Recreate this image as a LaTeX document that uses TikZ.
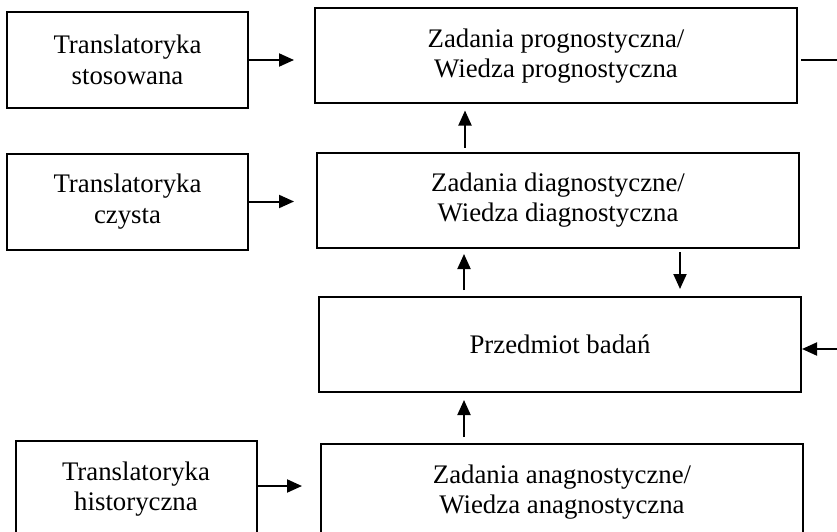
\documentclass[tikz,border=0pt]{standalone}
\usepackage{fontspec}
\setmainfont{Liberation Serif}
\usepackage{tikz}
\usetikzlibrary{positioning,arrows.meta,calc}

\begin{document}
\begin{tikzpicture}[
    x=1pt, y=-1pt,
    block/.style={draw, line width=2pt, fill=white, minimum width=241pt, minimum height=96pt, align=center, inner sep=0pt, font=\fontsize{26.8}{30.4}\selectfont},
    wide/.style={block, minimum width=482pt, minimum height=95pt},
    arr/.style={-{Triangle[length=15pt, width=13pt]}, line width=2pt},
    plain/.style={line width=2.6pt}
]
    \useasboundingbox (0,0) rectangle (837,532);
    \clip (0,0) rectangle (837,532);

    % central column
    \node[wide] (zp) at (556,56) {Zadania prognostyczna/\\Wiedza prognostyczna};
    \node[wide, below=47pt of zp, xshift=2pt] (zd) {Zadania diagnostyczne/\\Wiedza diagnostyczna};
    \node[wide, below=47.5pt of zd, xshift=2pt] (pb) {Przedmiot badań};
    \node[wide, below=50pt of pb, xshift=2pt, minimum height=96pt] (za) {Zadania anagnostyczne/\\Wiedza anagnostyczna};

    % left column
    \node[block] (ts) at (127.5,60) {Translatoryka\\stosowana};
    \node[block] (tc) at (127.5,201.5) {Translatoryka\\czysta};
    \node[block] (th) at (136,489) {Translatoryka\\historyczna};

    \coordinate (out) at (837,60);
    \coordinate (in) at (837,349);

    \draw[arr, shorten >=20pt] (ts.east) -- (ts.east -| zp.west);
    \draw[arr, shorten >=22pt] (tc.east) -- (tc.east -| zd.west);
    \draw[arr, shorten >=18pt] ([yshift=3pt]th.east) -- ([yshift=3pt]th.east -| za.west);

    \draw[arr, shorten <=4pt, shorten >=6pt] ([xshift=-93pt]zd.north) -- ([xshift=-93pt]zd.north |- zp.south);
    \draw[arr, shorten <=6pt, shorten >=5.5pt] ([xshift=-96pt]pb.north) -- ([xshift=-96pt]pb.north |- zd.south);
    \draw[arr, shorten <=3.5pt, shorten >=7pt] ([xshift=120pt]pb.north |- zd.south) -- ([xshift=120pt]pb.north);
    \draw[arr, shorten <=6pt, shorten >=7pt] ([xshift=-98pt]za.north) -- ([xshift=-98pt]za.north |- pb.south);

    \draw[plain, shorten <=3pt] (out -| zp.east) -- (out);
    \draw[arr] (in) -- (in -| pb.east);
\end{tikzpicture}
\end{document}
